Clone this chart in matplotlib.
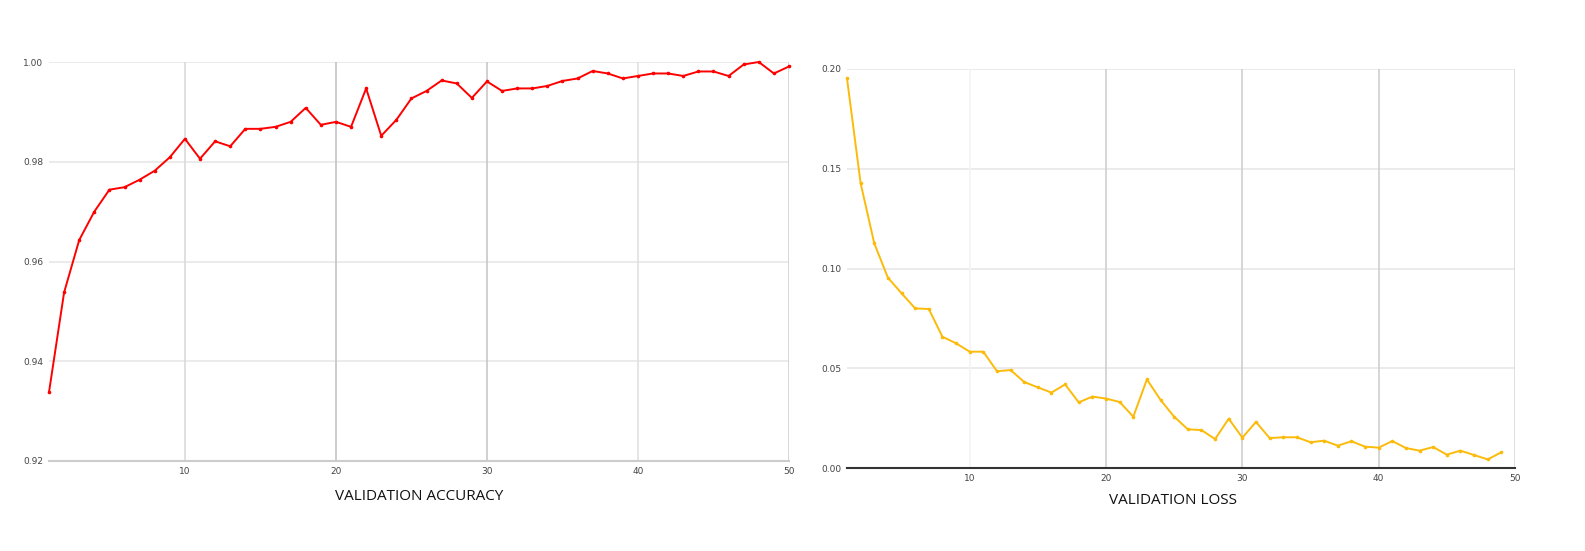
import matplotlib
matplotlib.use("Agg")
import matplotlib.pyplot as plt
from matplotlib import font_manager

epochs_acc = list(range(1, 51))
val_accuracy = [0.9338, 0.9538, 0.9643, 0.9700, 0.9744, 0.9749, 0.9764, 0.9782, 0.9809, 0.9846,
                0.9806, 0.9841, 0.9831, 0.9866, 0.9866, 0.9870, 0.9880, 0.9908, 0.9874, 0.9880,
                0.9870, 0.9947, 0.9852, 0.9884, 0.9927, 0.9942, 0.9963, 0.9957, 0.9928, 0.9961,
                0.9942, 0.9947, 0.9947, 0.9952, 0.9962, 0.9967, 0.9982, 0.9977, 0.9967, 0.9972,
                0.9977, 0.9977, 0.9972, 0.9981, 0.9981, 0.9972, 0.9995, 1.0000, 0.9977, 0.9991]

epochs_loss = list(range(1, 50))
val_loss = [0.1953, 0.1427, 0.1126, 0.0954, 0.0876, 0.0800, 0.0797, 0.0658, 0.0625, 0.0583,
            0.0583, 0.0485, 0.0491, 0.0431, 0.0404, 0.0378, 0.0419, 0.0329, 0.0358, 0.0348,
            0.0331, 0.0257, 0.0444, 0.0341, 0.0257, 0.0194, 0.0190, 0.0145, 0.0247, 0.0152,
            0.0231, 0.0150, 0.0154, 0.0154, 0.0129, 0.0137, 0.0112, 0.0134, 0.0107, 0.0102,
            0.0135, 0.0100, 0.0087, 0.0105, 0.0067, 0.0087, 0.0065, 0.0043, 0.0079]

acc_yticks = [0.92, 0.94, 0.96, 0.98, 1.00]
loss_yticks = [0.00, 0.05, 0.10, 0.15, 0.20]
x_ticks = [10, 20, 30, 40, 50]
titles = ["VALIDATION ACCURACY", "VALIDATION LOSS"]

W, H = 1585, 551
fig = plt.figure(figsize=(W / 100, H / 100), dpi=100)
fig.patch.set_facecolor("white")

avail = {f.name for f in font_manager.fontManager.ttflist}
title_family = ["Liberation Sans Narrow", "Open Sans", "DejaVu Sans"]
title_family = [f for f in title_family if f in avail] or ["DejaVu Sans"]

def box(x0, y0, x1, y1):
    return [x0 / W, 1 - y1 / H, (x1 - x0) / W, (y1 - y0) / H]

ax1 = fig.add_axes(box(49, 62, 789, 461))
ax2 = fig.add_axes(box(847, 69, 1515, 468))

def style(ax, yticks, fmt, bottom_color, vgrid_colors):
    ax.set_xlim(1, 50)
    ax.set_ylim(yticks[0], yticks[-1])
    ax.set_yticks(yticks)
    ax.set_yticklabels([fmt.format(v) for v in yticks])
    ax.set_xticks(x_ticks)
    ax.set_xticklabels([str(v) for v in x_ticks])
    for s in ["top", "right", "left"]:
        ax.spines[s].set_visible(False)
    ax.spines["bottom"].set_color(bottom_color)
    ax.spines["bottom"].set_linewidth(1.5)
    ax.tick_params(axis="both", length=0, labelsize=6.5, colors="#444444")
    ax.tick_params(axis="y", pad=4)
    ax.tick_params(axis="x", pad=4)
    for v in yticks[1:]:
        ax.axhline(v, color="#e8e8e8", lw=1.2, zorder=0)
    for v, c in zip(x_ticks, vgrid_colors):
        ax.axvline(v, color=c, lw=1.2, zorder=0)

style(ax1, acc_yticks, "{:.2f}", "#cccccc",
      ["#dadada", "#c4c4c4", "#c8c8c8", "#e0e0e0", "#d0d0d0"])
style(ax2, loss_yticks, "{:.2f}", "#333333",
      ["#f3f3f3", "#cfcfcf", "#cfcfcf", "#cfcfcf", "#dadada"])

ax1.plot(epochs_acc, val_accuracy, color="#ff0000", lw=1.4, marker="o",
         markersize=1.6, clip_on=False, zorder=3)
ax2.plot(epochs_loss, val_loss, color="#fcbb0a", lw=1.4, marker="o",
         markersize=1.6, clip_on=False, zorder=3)

fig.text(419 / W, 1 - 496 / H, titles[0], ha="center", va="center",
         fontsize=11, family=title_family, color="#111111")
fig.text(1173 / W, 1 - 501 / H, titles[1], ha="center", va="center",
         fontsize=11, family=title_family, color="#111111")

fig.savefig("out.png", dpi=100, facecolor="white")
